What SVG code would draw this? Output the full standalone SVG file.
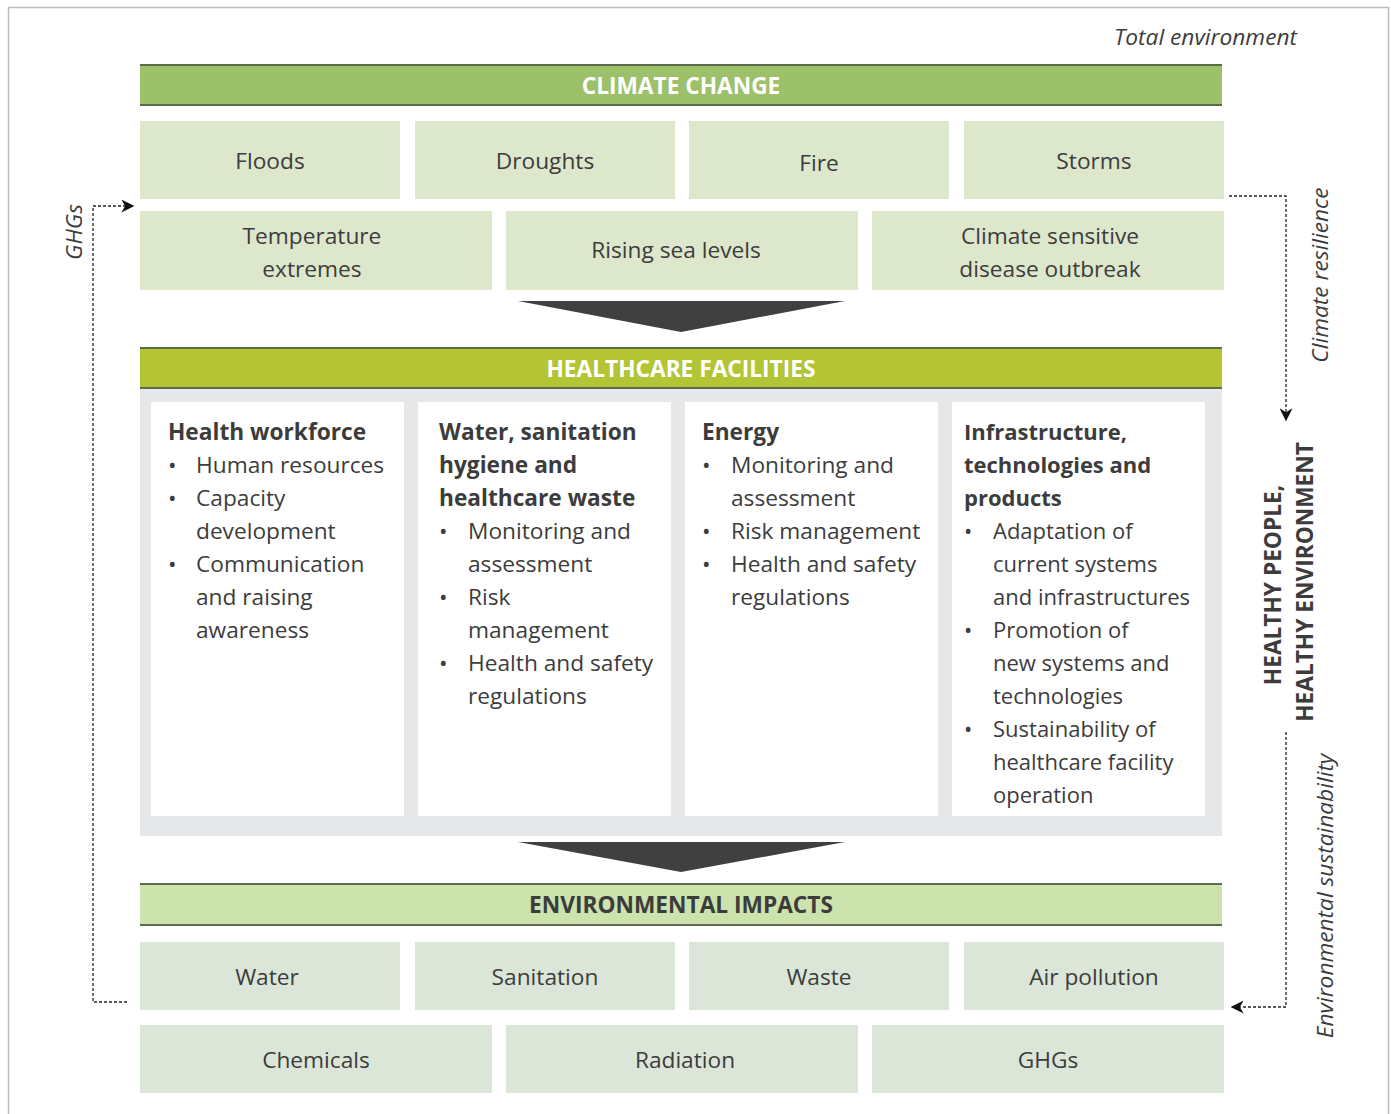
<svg xmlns="http://www.w3.org/2000/svg" width="1391" height="1114" viewBox="0 0 1391 1114">
<style>
text{font-family:"Open Sans","Noto Sans","Liberation Sans",sans-serif;fill:#3c3c3c;font-size:22.7px}
.c{text-anchor:middle}
.hd{font-weight:bold;text-anchor:middle}
.w{fill:#ffffff}
.b{font-weight:bold}
.it{font-style:italic}
.cc{fill:#9dc16a}
.hf{fill:#b3c435}
.ei{fill:#cce3ae}
.r1{fill:#dde7cc}
.r3{fill:#dbe6d9}
.bar{stroke:#5d6b4c;stroke-width:2}
.panel{fill:#e6e7e9}
.card{fill:#ffffff}
.conn{fill:none;stroke:#222;stroke-width:1.3;stroke-dasharray:3 2}
.arr{fill:#404041}
#infrastructure text{font-size:22px}
</style>
<defs>
<marker id="ah" viewBox="0 0 10 10" refX="9" refY="5" markerWidth="13" markerHeight="13" markerUnits="userSpaceOnUse" orient="auto">
<path d="M0,0 L10,5 L0,10 L3,5 Z" fill="#111"/>
</marker>
</defs>
<rect x="8.5" y="7.5" width="1380" height="1130" fill="#ffffff" stroke="#bdbdbd" stroke-width="1.5"/>
<text class="it" x="1297" y="45" text-anchor="end">Total environment</text>

<g id="climate-change">
<rect class="cc" x="140" y="64" width="1082" height="42"/>
<line class="bar" x1="140" y1="65" x2="1222" y2="65"/>
<line class="bar" x1="140" y1="105" x2="1222" y2="105"/>
<text class="hd w" x="681" y="94">CLIMATE CHANGE</text>
</g>
<g id="floods"><rect class="r1" x="140" y="121" width="260" height="78"/><text class="c" x="270" y="169">Floods</text></g>
<g id="droughts"><rect class="r1" x="415" y="121" width="260" height="78"/><text class="c" x="545" y="169">Droughts</text></g>
<g id="fire"><rect class="r1" x="689" y="121" width="260" height="78"/><text class="c" x="819" y="171">Fire</text></g>
<g id="storms"><rect class="r1" x="964" y="121" width="260" height="78"/><text class="c" x="1094" y="169">Storms</text></g>
<g id="temperature"><rect class="r1" x="140" y="211" width="352" height="79"/><text class="c" x="312" y="244">Temperature</text><text class="c" x="312" y="277">extremes</text></g>
<g id="sea-levels"><rect class="r1" x="506" y="211" width="352" height="79"/><text class="c" x="676" y="258">Rising sea levels</text></g>
<g id="disease"><rect class="r1" x="872" y="211" width="352" height="79"/><text class="c" x="1050" y="244">Climate sensitive</text><text class="c" x="1050" y="277">disease outbreak</text></g>

<polygon class="arr" points="518,301 845,301 681,332"/>

<g id="healthcare-facilities">
<rect class="panel" x="140" y="389" width="1082" height="447"/>
<rect class="hf" x="140" y="347" width="1082" height="42"/>
<line class="bar" x1="140" y1="348" x2="1222" y2="348"/>
<line class="bar" x1="140" y1="388" x2="1222" y2="388"/>
<text class="hd w" x="681" y="377">HEALTHCARE FACILITIES</text>
</g>
<g id="health-workforce">
<rect class="card" x="151" y="402" width="253" height="414"/>
<text class="b" x="168" y="440">Health workforce</text>
<text x="168" y="473">•</text><text x="196" y="473">Human resources</text>
<text x="168" y="506">•</text><text x="196" y="506">Capacity</text>
<text x="196" y="539">development</text>
<text x="168" y="572">•</text><text x="196" y="572">Communication</text>
<text x="196" y="605">and raising</text>
<text x="196" y="638">awareness</text>
</g>
<g id="wash">
<rect class="card" x="418" y="402" width="253" height="414"/>
<text class="b" x="439" y="440">Water, sanitation</text>
<text class="b" x="439" y="473">hygiene and</text>
<text class="b" x="439" y="506">healthcare waste</text>
<text x="439" y="539">•</text><text x="468" y="539">Monitoring and</text>
<text x="468" y="572">assessment</text>
<text x="439" y="605">•</text><text x="468" y="605">Risk</text>
<text x="468" y="638">management</text>
<text x="439" y="671">•</text><text x="468" y="671">Health and safety</text>
<text x="468" y="704">regulations</text>
</g>
<g id="energy">
<rect class="card" x="685" y="402" width="253" height="414"/>
<text class="b" x="702" y="440">Energy</text>
<text x="702" y="473">•</text><text x="731" y="473">Monitoring and</text>
<text x="731" y="506">assessment</text>
<text x="702" y="539">•</text><text x="731" y="539">Risk management</text>
<text x="702" y="572">•</text><text x="731" y="572">Health and safety</text>
<text x="731" y="605">regulations</text>
</g>
<g id="infrastructure">
<rect class="card" x="952" y="402" width="253" height="414"/>
<text class="b" x="964" y="440">Infrastructure,</text>
<text class="b" x="964" y="473">technologies and</text>
<text class="b" x="964" y="506">products</text>
<text x="964" y="539">•</text><text x="993" y="539">Adaptation of</text>
<text x="993" y="572">current systems</text>
<text x="993" y="605">and infrastructures</text>
<text x="964" y="638">•</text><text x="993" y="638">Promotion of</text>
<text x="993" y="671">new systems and</text>
<text x="993" y="704">technologies</text>
<text x="964" y="737">•</text><text x="993" y="737">Sustainability of</text>
<text x="993" y="770">healthcare facility</text>
<text x="993" y="803">operation</text>
</g>

<polygon class="arr" points="518,842 845,842 681,872"/>

<g id="environmental-impacts">
<rect class="ei" x="140" y="883" width="1082" height="43"/>
<line class="bar" x1="140" y1="884" x2="1222" y2="884"/>
<line class="bar" x1="140" y1="925" x2="1222" y2="925"/>
<text class="hd" x="681" y="913">ENVIRONMENTAL IMPACTS</text>
</g>
<g id="water"><rect class="r3" x="140" y="942" width="260" height="68"/><text class="c" x="267" y="985">Water</text></g>
<g id="sanitation"><rect class="r3" x="415" y="942" width="260" height="68"/><text class="c" x="545" y="985">Sanitation</text></g>
<g id="waste"><rect class="r3" x="689" y="942" width="260" height="68"/><text class="c" x="819" y="985">Waste</text></g>
<g id="air-pollution"><rect class="r3" x="964" y="942" width="260" height="68"/><text class="c" x="1094" y="985">Air pollution</text></g>
<g id="chemicals"><rect class="r3" x="140" y="1025" width="352" height="68"/><text class="c" x="316" y="1068">Chemicals</text></g>
<g id="radiation"><rect class="r3" x="506" y="1025" width="352" height="68"/><text class="c" x="685" y="1068">Radiation</text></g>
<g id="ghgs"><rect class="r3" x="872" y="1025" width="352" height="68"/><text class="c" x="1048" y="1068">GHGs</text></g>

<g id="healthy-people">
<text class="b" transform="translate(1281,585) rotate(-90)" text-anchor="middle">HEALTHY PEOPLE,</text>
<text class="b" transform="translate(1313,582) rotate(-90)" text-anchor="middle">HEALTHY ENVIRONMENT</text>
</g>

<g id="connectors">
<polyline class="conn" points="127,1002 93,1002 93,206 133,206" marker-end="url(#ah)"/>
<polyline class="conn" points="1229,196 1286,196 1286,420" marker-end="url(#ah)"/>
<polyline class="conn" points="1286,732 1286,1007 1232,1007" marker-end="url(#ah)"/>
<text class="it" transform="translate(82,232) rotate(-90)" text-anchor="middle">GHGs</text>
<text class="it" transform="translate(1328,275) rotate(-90)" text-anchor="middle">Climate resilience</text>
<text class="it" transform="translate(1333,896) rotate(-90)" text-anchor="middle">Environmental sustainability</text>
</g>
</svg>
